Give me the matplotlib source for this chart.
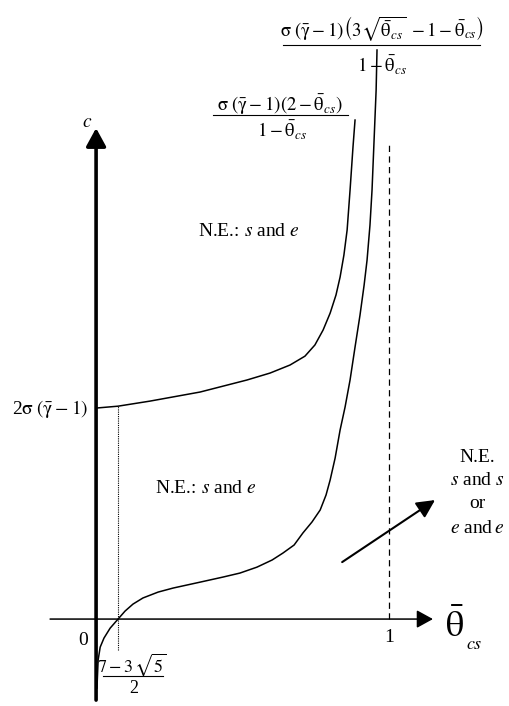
import matplotlib
matplotlib.use('Agg')
import matplotlib.pyplot as plt

plt.rcParams['font.family'] = ['Liberation Serif', 'DejaVu Serif']
plt.rcParams['mathtext.fontset'] = 'stix'

# schematic curves (theta_cs, c) with 2*sigma*(gamma-1) = 1
upper_theta = [0.0, 0.075, 0.184, 0.355, 0.515, 0.594, 0.662, 0.713, 0.747,
               0.775, 0.799, 0.819, 0.833, 0.846, 0.857, 0.867, 0.877, 0.884]
upper_c = [1.0, 1.009, 1.033, 1.076, 1.133, 1.166, 1.204, 1.246, 1.299,
           1.370, 1.450, 1.536, 1.621, 1.725, 1.844, 2.033, 2.237, 2.365]

lower_theta = [0.003, 0.007, 0.014, 0.027, 0.048, 0.075, 0.099, 0.126, 0.160,
               0.212, 0.263, 0.355, 0.433, 0.491, 0.549, 0.601, 0.638, 0.676,
               0.706, 0.737, 0.765, 0.785, 0.799, 0.816, 0.833, 0.850, 0.867,
               0.884, 0.901, 0.915, 0.925, 0.935, 0.942, 0.949, 0.956, 0.959]
lower_c = [-0.327, -0.194, -0.133, -0.090, -0.043, 0.0, 0.038, 0.071, 0.100,
           0.128, 0.147, 0.175, 0.199, 0.218, 0.246, 0.280, 0.313, 0.351,
           0.408, 0.460, 0.517, 0.588, 0.659, 0.763, 0.896, 1.005, 1.133,
           1.289, 1.441, 1.583, 1.701, 1.867, 2.033, 2.270, 2.507, 2.697]

theta_root = 0.075      # (7-3*sqrt5)/2 as drawn
c_start = 1.0           # 2 sigma (gamma-1)

fig = plt.figure(figsize=(5.1, 7.06), dpi=100)
ax = fig.add_axes([0, 0, 1, 1])
ax.set_xlim(-0.328, 1.413)
ax.set_ylim(-0.412, 2.934)
ax.axis('off')

# axes with arrows
ax.annotate('', xy=(1.150, 0), xytext=(-0.157, 0),
            arrowprops=dict(arrowstyle='-|>,head_length=1.0,head_width=0.55',
                            mutation_scale=10, lw=1.1, color='black',
                            shrinkA=0, shrinkB=0))
ax.annotate('', xy=(0, 2.327), xytext=(0, -0.384),
            arrowprops=dict(arrowstyle='-|>,head_length=1.1,head_width=0.6',
                            mutation_scale=10, lw=2.6, color='black',
                            shrinkA=0, shrinkB=0))

ax.plot(upper_theta, upper_c, color='black', lw=1.1)
ax.plot(lower_theta, lower_c, color='black', lw=1.1)

ax.plot([theta_root, theta_root], [-0.147, 1.009], color='black', lw=0.8,
        linestyle=(0, (1, 1)))
ax.plot([1.0, 1.0], [0, 2.261], color='black', lw=0.9, linestyle=(0, (5, 3.5)))

ax.annotate('', xy=(1.157, 0.564), xytext=(0.840, 0.270),
            arrowprops=dict(arrowstyle='-|>,head_length=1.1,head_width=0.55',
                            mutation_scale=10, lw=1.5, color='black',
                            shrinkA=0, shrinkB=0))

fs = 14
sig = r'\mathrm{\sigma}'
gam = r'\bar{\mathrm{\gamma}}'
th = r'\bar{\mathrm{\theta}}_{cs}'

ax.text(-0.031, 2.355, r'$c$', fontsize=fs, ha='center', va='center')
ax.text(-0.157, 0.995, r'2$' + sig + r'\;(' + gam + r'-1)$', fontsize=fs,
        ha='center', va='center')
ax.text(-0.044, -0.100, '0', fontsize=fs, ha='center', va='center')
ax.text(1.0, -0.085, '1', fontsize=fs, ha='center', va='center')
ax.text(1.225, -0.040, r'$\bar{\mathrm{\theta}}$', fontsize=26, ha='center', va='center')
ax.text(1.262, -0.120, r'$cs$', fontsize=13, ha='left', va='center')

ax.text(0.522, 1.839, r'N.E.: $s$ and $e$', fontsize=fs, ha='center', va='center')
ax.text(0.375, 0.621, r'N.E.: $s$ and $e$', fontsize=fs, ha='center', va='center')

for yv, s in zip([0.768, 0.659, 0.550, 0.431],
                 ['N.E.', r'$s$ and $s$', 'or', r'$e$ and$\,e$']):
    ax.text(1.300, yv, s, fontsize=fs, ha='center', va='center')

# formula labels
ax.text(0.976, 2.801, r'$' + sig + r'\;(' + gam + r'-1)\left(3\sqrt{' + th + r'}\;-1-' + th + r'\right)$',
        fontsize=13.5, ha='center', va='center')
ax.plot([0.638, 1.311], [2.720, 2.720], color='black', lw=0.8)
ax.text(0.976, 2.625, r'$1-' + th + '$', fontsize=13.5, ha='center', va='center')

ax.text(0.628, 2.436, r'$' + sig + r'\;(' + gam + r'-1)\left(2-' + th + r'\right)$',
        fontsize=13.5, ha='center', va='center')
ax.plot([0.399, 0.860], [2.389, 2.389], color='black', lw=0.8)
ax.text(0.635, 2.318, r'$1-' + th + '$', fontsize=13.5, ha='center', va='center')

ax.text(0.123, -0.218, r'$7-3\,\sqrt{5}$', fontsize=13, ha='center', va='center')
ax.plot([0.024, 0.229], [-0.270, -0.270], color='black', lw=0.8)
ax.text(0.130, -0.327, '2', fontsize=13, ha='center', va='center')

fig.savefig('out.png', dpi=100)
